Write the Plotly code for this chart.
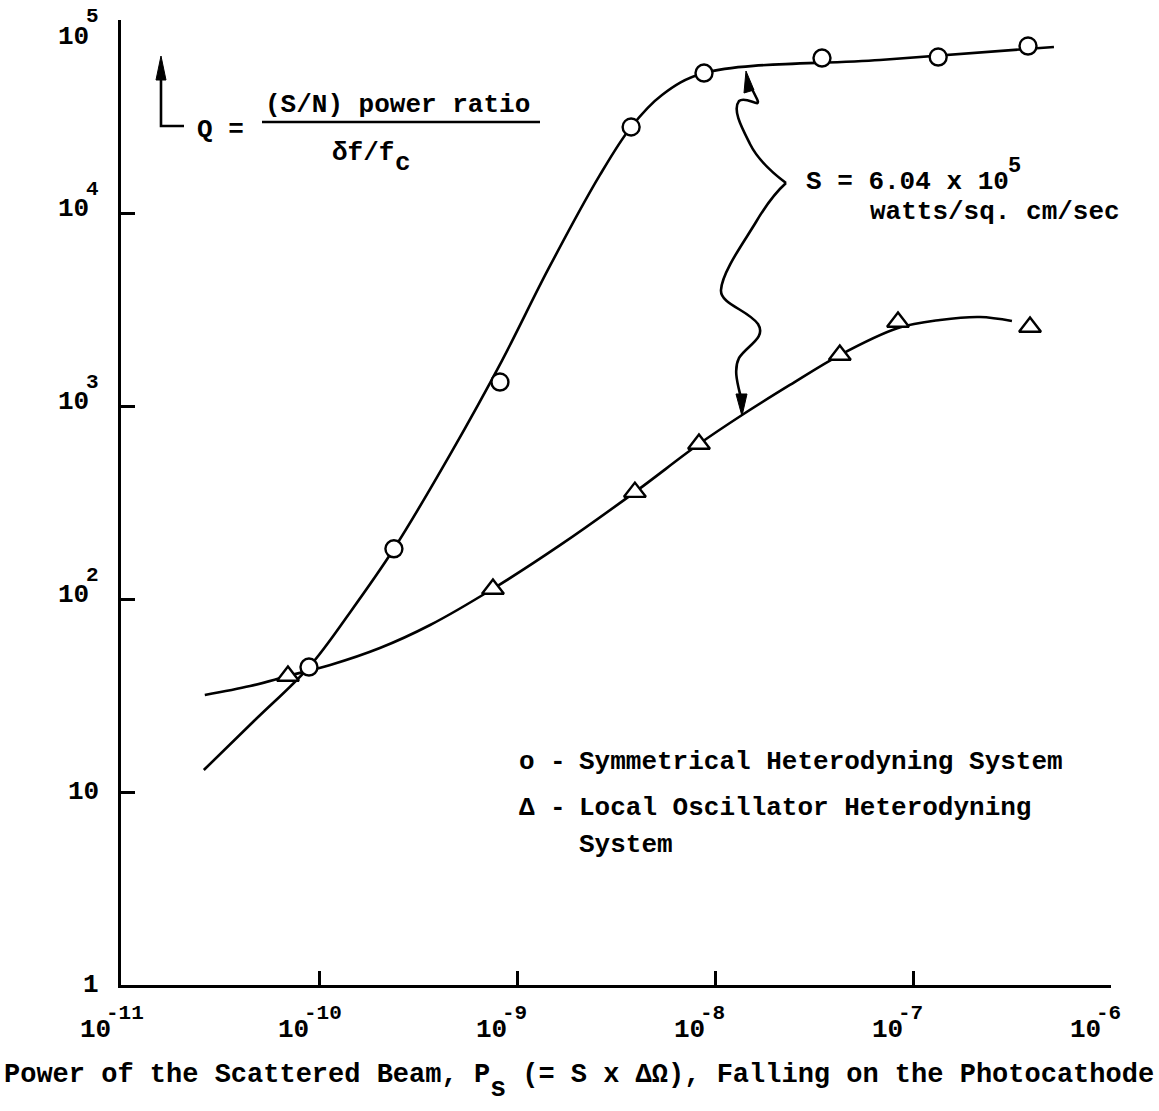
import math
import plotly.graph_objects as go

# ---- measured points -------------------------------------------------------
# Symmetrical heterodyning system (open circles)
sym_ps = [8.9e-11, 2.39e-10, 8.2e-10, 3.77e-9, 8.8e-9, 3.47e-8, 1.34e-7, 3.81e-7]
sym_q = [44.4, 182, 1331, 27900, 53100, 63500, 64300, 73300]

# Local oscillator heterodyning system (open triangles)
lo_ps = [6.97e-11, 7.56e-10, 3.94e-9, 8.3e-9, 4.27e-8, 8.4e-8, 3.9e-7]
lo_q = [39.9, 112.7, 358, 635, 1837, 2724, 2566]

# ---- hand-faired curves through the points ---------------------------------
sym_curve_ps = [2.62e-11, 4.75e-11, 8.90e-11, 1.44e-10, 2.39e-10, 4.59e-10, 8.40e-10,
                1.44e-9, 2.62e-9, 3.77e-9, 5.40e-9, 8.79e-9, 6.81e-8, 5.15e-7]
sym_curve_q = [13.0, 23.6, 44.4, 85.7, 182, 560, 1720,
               5130, 15700, 27900, 40900, 53100, 62100, 72500]

lo_curve_ps = [2.65e-11, 4.49e-11, 6.97e-11, 1.14e-10, 2.03e-10, 3.64e-10, 7.56e-10,
               1.65e-9, 3.94e-9, 8.30e-9, 1.37e-8, 2.39e-8, 4.27e-8, 8.40e-8,
               1.37e-7, 2.18e-7, 3.16e-7]
lo_curve_q = [31.8, 35.4, 39.9, 45.5, 55.7, 73.3, 113,
              190, 358, 635, 898, 1285, 1837, 2536,
              2790, 2891, 2757]

# ---- axis ticks (labels are typed as "10" with a raised exponent) -----------
x_tickvals = [1e-11, 1e-10, 1e-9, 1e-8, 1e-7, 1e-6]
x_exponents = ["-11", "-10", "-9", "-8", "-7", "-6"]
y_tickvals = [1, 10, 100, 1e3, 1e4, 1e5]
y_exponents = [None, None, "2", "3", "4", "5"]

FONT = "Liberation Mono"
SIZE = 26
EXP_SIZE = 21
W, H = 1159, 1111
L, R, T, B = 121, 48, 20, 126
PW, PH = W - L - R, H - T - B


def px(x):
    """Figure pixel column -> paper x."""
    return (x - L) / PW


def py(y):
    """Figure pixel row -> paper y."""
    return (H - B - y) / PH


def path(*segments):
    out = []
    for cmd, pts in segments:
        out.append(cmd + " " + " ".join(f"{px(a):.5f},{py(b):.5f}" for a, b in pts))
    return " ".join(out)


fig = go.Figure()

line_style = dict(color="black", width=2.6, shape="spline", smoothing=1.0)
fig.add_trace(go.Scatter(x=sym_curve_ps, y=sym_curve_q, mode="lines", line=line_style,
                         hoverinfo="skip"))
fig.add_trace(go.Scatter(x=lo_curve_ps, y=lo_curve_q, mode="lines", line=line_style,
                         hoverinfo="skip"))
fig.add_trace(go.Scatter(x=sym_ps, y=sym_q, mode="markers",
                         name="Symmetrical Heterodyning System",
                         marker=dict(symbol="circle", size=17, color="white",
                                     line=dict(color="black", width=2.4))))
fig.add_trace(go.Scatter(x=lo_ps, y=lo_q, mode="markers",
                         name="Local Oscillator Heterodyning System",
                         marker=dict(symbol="triangle-up", size=19, color="white",
                                     line=dict(color="black", width=2.4))))

axis_common = dict(type="log", showgrid=False, zeroline=False, showline=True,
                   linecolor="black", linewidth=3, ticks="inside", ticklen=14,
                   tickwidth=2.6, tickcolor="black", mirror=False,
                   showticklabels=False)

fig.update_xaxes(range=[-11, -6], tickvals=x_tickvals, **axis_common)
fig.update_yaxes(range=[0, 5], tickvals=y_tickvals, **axis_common)

ann = []


def font(size):
    return dict(family=FONT, size=size, color="black", weight="bold")


def label(text, x, y, anchor="left", size=SIZE):
    ann.append(dict(text=text, x=px(x), y=py(y), xref="paper", yref="paper",
                    xanchor=anchor, yanchor="middle", showarrow=False,
                    font=font(size)))


# x tick labels: "10" just left of the tick, exponent raised above the tick
for v, e in zip(x_tickvals, x_exponents):
    lv = math.log10(v)
    ann.append(dict(text="10", x=lv, y=py(1030), xref="x", yref="paper",
                    xanchor="right", yanchor="middle", xshift=-8, showarrow=False,
                    font=font(SIZE)))
    ann.append(dict(text=e, x=lv, y=py(1013), xref="x", yref="paper",
                    xanchor="left", yanchor="middle", xshift=-17, showarrow=False,
                    font=font(EXP_SIZE)))

# y tick labels, right-aligned to the left of the axis
RIGHT = 101
EXP_W = 0.6 * EXP_SIZE
for v, e in zip(y_tickvals, y_exponents):
    lv = math.log10(v)
    top = lv == 5
    if e is None:
        ann.append(dict(text="1" if lv == 0 else "10", x=px(RIGHT), y=lv,
                        xref="paper", yref="y", xanchor="right", yanchor="middle",
                        showarrow=False, font=font(SIZE)))
    else:
        ann.append(dict(text="10", x=px(RIGHT - EXP_W + 3), y=lv, xref="paper", yref="y",
                        xanchor="right", yanchor="middle",
                        yshift=-17 if top else 4, showarrow=False, font=font(SIZE)))
        ann.append(dict(text=e, x=px(RIGHT), y=lv, xref="paper", yref="y",
                        xanchor="right", yanchor="middle",
                        yshift=4 if top else 24, showarrow=False, font=font(EXP_SIZE)))

# Q definition
label("Q =", 195, 130)
label("(S/N) power ratio", 263, 105)
label("\u03b4f/f", 330, 153)
label("c", 393, 163)

# Irradiance note
label("S = 6.04 x 10", 804, 182)
label("5", 1006, 166, size=22)
label("watts/sq. cm/sec", 868, 212)

# Key
label("o", 517, 762)
label("-", 548, 762)
label("Symmetrical Heterodyning System", 577, 762)
label("\u0394", 517, 808)
label("-", 548, 808)
label("Local Oscillator Heterodyning", 577, 808)
label("System", 577, 845)

# Horizontal axis title, with the lowered subscript on P
TS = 27
CW = 0.6 * TS
title_head = "Power of the Scattered Beam, P"
title_tail = " (= S x \u0394\u03a9), Falling on the Photocathode"
x0 = 2
label(title_head, x0, 1075, size=TS)
label("s", x0 + len(title_head) * CW, 1089, size=TS)
label(title_tail, x0 + (len(title_head) + 1) * CW, 1075, size=TS)

stroke = dict(color="black", width=2.6)
shapes = []
# fraction bar
shapes.append(dict(type="line", xref="paper", yref="paper",
                   x0=px(262), y0=py(122), x1=px(540), y1=py(122), line=stroke))
# Q pointer arrow
shapes.append(dict(type="path", xref="paper", yref="paper",
                   path=path(("M", [(184, 126)]), ("L", [(161, 126)]), ("L", [(161, 74)])),
                   line=stroke))
shapes.append(dict(type="path", xref="paper", yref="paper",
                   path=path(("M", [(161, 56)]), ("L", [(156, 80)]), ("L", [(166, 80)])) + " Z",
                   fillcolor="black", line=dict(color="black", width=1)))

# brace pointers to the two curves
shapes.append(dict(type="path", xref="paper", yref="paper",
                   path=path(("M", [(786, 183)]),
                             ("C", [(774, 174), (758, 160), (750, 144)]),
                             ("C", [(742, 128), (732, 110), (739, 101)]),
                             ("C", [(746, 95), (762, 110), (757, 99)]),
                             ("L", [(751, 87)])),
                   line=stroke))
shapes.append(dict(type="path", xref="paper", yref="paper",
                   path=path(("M", [(746, 71)]), ("L", [(744, 93)]), ("L", [(754, 90)])) + " Z",
                   fillcolor="black", line=dict(color="black", width=1)))
shapes.append(dict(type="path", xref="paper", yref="paper",
                   path=path(("M", [(786, 183)]),
                             ("C", [(776, 192), (766, 205), (756, 222)]),
                             ("C", [(744, 242), (722, 272), (721, 290)]),
                             ("C", [(720, 304), (748, 310), (758, 324)]),
                             ("C", [(767, 338), (746, 346), (739, 358)]),
                             ("C", [(733, 370), (738, 385), (741, 398)])),
                   line=stroke))
shapes.append(dict(type="path", xref="paper", yref="paper",
                   path=path(("M", [(742, 416)]), ("L", [(736, 394)]), ("L", [(747, 394)])) + " Z",
                   fillcolor="black", line=dict(color="black", width=1)))

fig.update_layout(
    annotations=ann,
    shapes=shapes,
    width=W, height=H,
    margin=dict(l=L, r=R, t=T, b=B),
    paper_bgcolor="white", plot_bgcolor="white",
    showlegend=False,
    font=dict(family=FONT, size=SIZE, color="black"),
)

fig.write_html("out.html")
